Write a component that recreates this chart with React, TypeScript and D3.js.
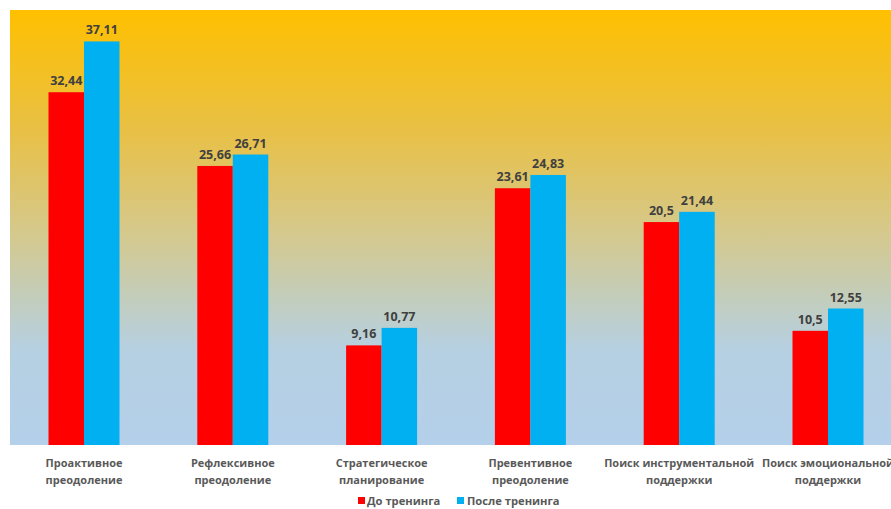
import React from "react";
import * as d3 from "d3";

const categories: string[][] = [
  ["Проактивное", "преодоление"],
  ["Рефлексивное", "преодоление"],
  ["Стратегическое", "планирование"],
  ["Превентивное", "преодоление"],
  ["Поиск инструментальной", "поддержки"],
  ["Поиск эмоциональной", "поддержки"],
];
const before: number[] = [32.44, 25.66, 9.16, 23.61, 20.5, 10.5];
const after: number[] = [37.11, 26.71, 10.77, 24.83, 21.44, 12.55];
const seriesNames: string[] = ["До тренинга", "После тренинга"];
const seriesColors: string[] = ["#FF0000", "#00B0F0"];

const W = 891;
const H = 509;
const top = 10;
const bottom = 445;
const left = 9.6;
const right = 902.4;

export default function App() {
  const idx = categories.map((_, i) => String(i));
  const pad = 1 - 71 / 148.8;
  const x = d3.scaleBand<string>().domain(idx).range([left, right]).paddingInner(pad).paddingOuter(pad / 2);
  const xs = d3.scaleBand<string>().domain(["0", "1"]).range([0, x.bandwidth()]);
  const y = d3.scaleLinear().domain([0, 40]).range([bottom, top]);
  const series = [before, after];
  const fmt = (v: number) => String(v).replace(".", ",");
  const font = "'Open Sans', sans-serif";

  return (
    <svg width={W} height={H} style={{ position: "absolute", left: 0, top: 0, background: "#fff" }}>
      <defs>
        <linearGradient id="bg" x1="0" y1="0" x2="0" y2="1">
          <stop offset="0%" stopColor="#FFC000" />
          <stop offset="28%" stopColor="#E8C046" />
          <stop offset="52%" stopColor="#D4C98F" />
          <stop offset="66%" stopColor="#C3CDBB" />
          <stop offset="78%" stopColor="#B6D0E2" />
          <stop offset="100%" stopColor="#B4D0EA" />
        </linearGradient>
      </defs>
      <rect x={10} y={top} width={W - 10} height={bottom - top} fill="url(#bg)" />
      {idx.map((c, i) => (
        <g key={c} transform={`translate(${x(c)},0)`}>
          {series.map((s, j) => {
            const bx = xs(String(j)) as number;
            const bw = xs.bandwidth();
            return (
              <g key={j}>
                <rect x={bx} y={y(s[i])} width={bw} height={bottom - y(s[i])} fill={seriesColors[j]} />
                <text
                  x={bx + bw / 2}
                  y={y(s[i]) - 7}
                  textAnchor="middle"
                  fontFamily={font}
                  fontWeight={700}
                  fontSize={12.5}
                  fill="#404040"
                >
                  {fmt(s[i])}
                </text>
              </g>
            );
          })}
          {categories[i].map((line, k) => (
            <text
              key={k}
              x={x.bandwidth() / 2}
              y={467 + k * 17}
              textAnchor="middle"
              fontFamily={font}
              fontWeight={700}
              fontSize={11}
              fill="#595959"
            >
              {line}
            </text>
          ))}
        </g>
      ))}
      <g fontFamily={font} fontWeight={700} fontSize={11.2} fill="#595959">
        <rect x={358} y={497} width={7} height={7} fill={seriesColors[0]} />
        <text x={367} y={505}>{seriesNames[0]}</text>
        <rect x={457} y={497} width={7} height={7} fill={seriesColors[1]} />
        <text x={467} y={505}>{seriesNames[1]}</text>
      </g>
    </svg>
  );
}
